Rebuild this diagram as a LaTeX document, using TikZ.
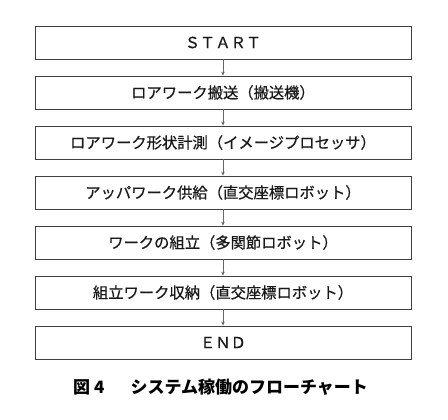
\documentclass[tikz,border=0pt]{standalone}
\usepackage{fontspec}
\newfontfamily\cjk{Noto Sans CJK JP}
\newfontfamily\cjkm[FakeBold=0.6]{Noto Sans CJK JP}
\usetikzlibrary{arrows.meta}
\begin{document}
\begin{tikzpicture}[x=1pt,y=-1pt,
  stepbox/.style={draw=black!75, line width=0.8pt, minimum width=376pt, minimum height=33pt, inner sep=0pt,
    font=\cjkm\fontsize{15.3}{18}\selectfont, text=black!90},
  flow/.style={draw=black!60, line width=0.6pt, -{Stealth[length=4pt,width=3.5pt]}}]
\useasboundingbox (0,0) rectangle (448,420);
\node[stepbox] (s0) at (223,42.5) {ＳＴＡＲＴ};
\node[stepbox] (s1) at (223,92.5) {ロアワーク搬送（搬送機）};
\node[stepbox] (s2) at (223,142.5) {ロアワーク形状計測（イメージプロセッサ）};
\node[stepbox] (s3) at (223,192.5) {アッパワーク供給（直交座標ロボット）};
\node[stepbox] (s4) at (223,242.5) {ワークの組立（多関節ロボット）};
\node[stepbox] (s5) at (223,292.5) {組立ワーク収納（直交座標ロボット）};
\node[stepbox] (s6) at (223,342.5) {ＥＮＤ};
\foreach \a/\b in {s0/s1,s1/s2,s2/s3,s3/s4,s4/s5,s5/s6}
  \draw[flow] (\a.south) -- (\b.north);
\node[anchor=west, inner sep=0pt, font=\cjk\bfseries\fontsize{17}{20}\selectfont] (cap) at (73,387)
  {図\hspace{4pt}4\hspace{26pt}システム稼働のフローチャート};
\end{tikzpicture}
\end{document}
